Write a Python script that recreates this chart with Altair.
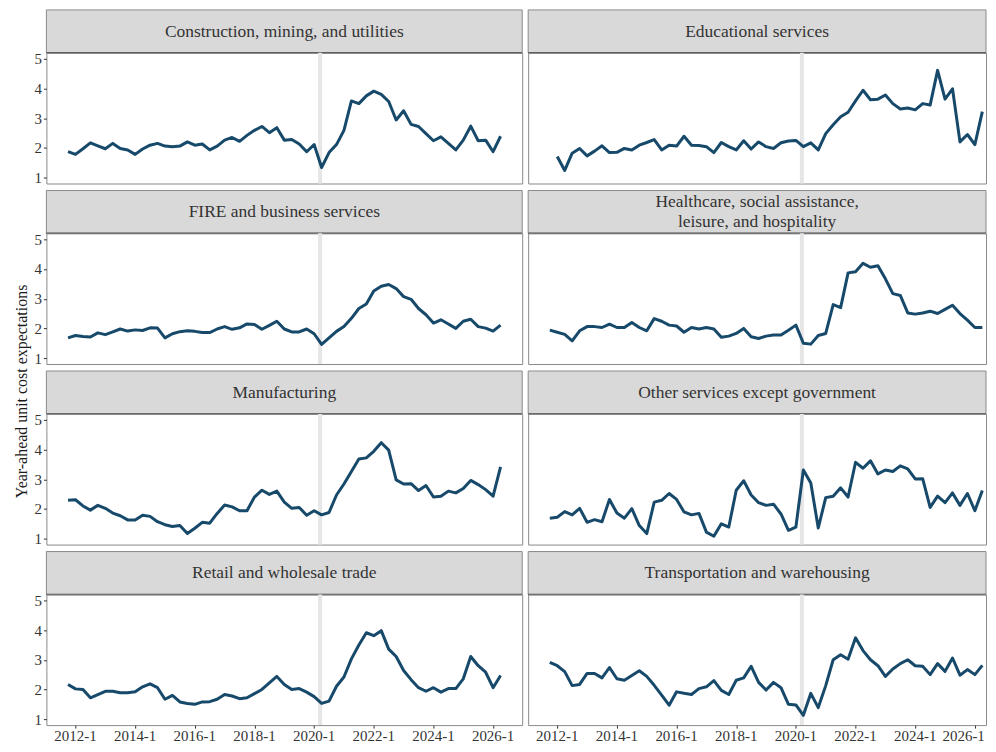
import altair as alt
import pandas as pd

# ---------------- data ----------------
start_year, start_q = 2011, 4
n_periods = 59  # 2011Q4 .. 2026Q2
periods = []
y, q = start_year, start_q
for _ in range(n_periods):
    periods.append(y + (q - 1) / 4)
    q += 1
    if q > 4:
        q = 1
        y += 1

construction = [1.87, 1.78, 1.97, 2.17, 2.07, 1.97, 2.15, 1.98, 1.93, 1.78,
                 1.96, 2.09, 2.15, 2.06, 2.04, 2.06, 2.20, 2.09, 2.13, 1.93,
                 2.06, 2.26, 2.35, 2.22, 2.42, 2.59, 2.72, 2.51, 2.68, 2.26,
                 2.28, 2.13, 1.87, 2.11, 1.34, 1.84, 2.11, 2.59, 3.58, 3.49,
                 3.75, 3.91, 3.80, 3.56, 2.94, 3.25, 2.79, 2.72, 2.48, 2.24,
                 2.37, 2.15, 1.93, 2.26, 2.73, 2.24, 2.26, 1.87, 2.39]
educational = [None, 1.71, 1.24, 1.82, 1.98, 1.73, 1.89, 2.07, 1.84, 1.85,
               1.98, 1.93, 2.09, 2.18, 2.28, 1.93, 2.09, 2.06, 2.39, 2.09,
               2.08, 2.04, 1.84, 2.18, 2.04, 1.93, 2.24, 1.96, 2.20, 2.04,
               1.98, 2.17, 2.23, 2.25, 2.04, 2.17, 1.93, 2.48, 2.78, 3.05,
               3.20, 3.58, 3.94, 3.62, 3.64, 3.78, 3.49, 3.31, 3.34, 3.28,
               3.49, 3.44, 4.61, 3.64, 3.99, 2.20, 2.45, 2.11, 3.22]
fire = [1.68, 1.76, 1.73, 1.71, 1.85, 1.79, 1.88, 1.98, 1.91, 1.95,
        1.93, 2.02, 2.01, 1.68, 1.82, 1.89, 1.92, 1.90, 1.86, 1.86,
        1.98, 2.06, 1.97, 2.02, 2.15, 2.13, 1.97, 2.10, 2.24, 1.98,
        1.88, 1.88, 1.98, 1.82, 1.46, 1.68, 1.90, 2.06, 2.34, 2.67,
        2.82, 3.26, 3.42, 3.48, 3.34, 3.07, 2.98, 2.67, 2.46, 2.18,
        2.29, 2.15, 2.00, 2.24, 2.31, 2.06, 2.01, 1.91, 2.11]
healthcare = [1.94, 1.87, 1.80, 1.58, 1.92, 2.06, 2.06, 2.03, 2.14, 2.03,
              2.03, 2.20, 2.03, 1.92, 2.33, 2.24, 2.11, 2.08, 1.87, 2.03,
              1.98, 2.03, 1.98, 1.70, 1.74, 1.83, 2.00, 1.72, 1.66, 1.74,
              1.78, 1.78, 1.94, 2.11, 1.50, 1.47, 1.76, 1.83, 2.80, 2.70,
              3.87, 3.91, 4.19, 4.06, 4.11, 3.67, 3.17, 3.11, 2.52, 2.48,
              2.52, 2.58, 2.50, 2.64, 2.78, 2.50, 2.28, 2.03, 2.03]
manufacturing = [2.29, 2.31, 2.10, 1.96, 2.12, 2.02, 1.86, 1.77, 1.63, 1.63,
                 1.79, 1.75, 1.57, 1.47, 1.41, 1.44, 1.17, 1.35, 1.55, 1.52,
                 1.85, 2.13, 2.07, 1.94, 1.94, 2.40, 2.63, 2.49, 2.60, 2.23,
                 2.02, 2.05, 1.79, 1.94, 1.80, 1.88, 2.47, 2.84, 3.26, 3.68,
                 3.72, 3.94, 4.23, 3.98, 2.98, 2.84, 2.85, 2.62, 2.79, 2.40,
                 2.43, 2.60, 2.54, 2.69, 2.96, 2.82, 2.65, 2.43, 3.42]
other_services = [1.69, 1.72, 1.91, 1.80, 2.02, 1.55, 1.64, 1.57, 2.32, 1.86,
                  1.69, 2.01, 1.44, 1.17, 2.23, 2.29, 2.52, 2.32, 1.90, 1.80,
                  1.85, 1.22, 1.08, 1.50, 1.39, 2.63, 2.95, 2.47, 2.21, 2.12,
                  2.16, 1.83, 1.28, 1.39, 3.31, 2.87, 1.36, 2.38, 2.43, 2.71,
                  2.40, 3.57, 3.37, 3.62, 3.18, 3.31, 3.26, 3.45, 3.35, 3.01,
                  3.02, 2.05, 2.43, 2.21, 2.54, 2.12, 2.52, 1.94, 2.62]
retail = [2.17, 2.02, 2.00, 1.72, 1.83, 1.94, 1.94, 1.89, 1.89, 1.92,
          2.09, 2.19, 2.06, 1.67, 1.80, 1.58, 1.53, 1.50, 1.58, 1.59,
          1.67, 1.83, 1.78, 1.69, 1.72, 1.86, 2.00, 2.22, 2.44, 2.17,
          2.00, 2.03, 1.91, 1.76, 1.53, 1.61, 2.11, 2.42, 3.03, 3.50,
          3.91, 3.81, 3.98, 3.36, 3.11, 2.64, 2.33, 2.06, 1.94, 2.06,
          1.91, 2.03, 2.03, 2.36, 3.11, 2.80, 2.58, 2.06, 2.47]
transportation = [2.91, 2.80, 2.60, 2.13, 2.17, 2.54, 2.54, 2.39, 2.74, 2.36,
                  2.31, 2.47, 2.63, 2.44, 2.14, 1.81, 1.47, 1.92, 1.87, 1.83,
                  2.03, 2.09, 2.30, 1.97, 1.83, 2.31, 2.39, 2.78, 2.24, 1.98,
                  2.24, 2.06, 1.50, 1.48, 1.13, 1.87, 1.39, 2.13, 3.00, 3.17,
                  3.02, 3.74, 3.31, 3.00, 2.80, 2.44, 2.69, 2.87, 3.00, 2.80,
                  2.78, 2.50, 2.87, 2.61, 3.06, 2.48, 2.67, 2.50, 2.81]

sector_labels = [
    "Construction, mining, and utilities",
    "Educational services",
    "FIRE and business services",
    "Healthcare, social assistance,\nleisure, and hospitality",
    "Manufacturing",
    "Other services except government",
    "Retail and wholesale trade",
    "Transportation and warehousing",
]
sector_values = [construction, educational, fire, healthcare,
                 manufacturing, other_services, retail, transportation]

covid_marker = [2020.2]
x_tick_years = [2012, 2014, 2016, 2018, 2020, 2022, 2024, 2026]
x_tick_labels = [f"{yr}-1" for yr in x_tick_years]
y_ticks = [1, 2, 3, 4, 5]
y_title = "Year-ahead unit cost expectations"

rows = []
for lab, vals in zip(sector_labels, sector_values):
    for xv, v in zip(periods, vals):
        if v is not None:
            rows.append({"sector": lab, "x": xv, "value": v})
df = pd.DataFrame(rows)
covid_df = pd.DataFrame({"x": covid_marker})
tick_df = pd.DataFrame({"x": x_tick_years, "label": x_tick_labels})

# ---------------- style ----------------
FONT = "Liberation Serif"
W_LEFT = 477
W_RIGHT = 459          # right column is cut at the page edge
PLOT_H = 131
STRIP_H = 43
GAP = 7
LABEL_ROW_H = 17
LINE_HEIGHT = 20
STRIP_FONT = 17.5
LINE_COLOR = "#17496a"
BORDER = "#8a8a8a"
TEXT = "#333333"

X_LO, X_HI = 2011.025, 2026.975
px_per_year = W_LEFT / (X_HI - X_LO)
x_scales = [alt.Scale(domain=[X_LO, X_HI], nice=False, zero=False),
            alt.Scale(domain=[X_LO, X_LO + W_RIGHT / px_per_year],
                      nice=False, zero=False)]
widths = [W_LEFT, W_RIGHT]
y_scale = alt.Scale(domain=[0.8, 5.2], nice=False, zero=False)

# y-axis title centre (pixels from the top of the panel stack)
TITLE_CENTER = 382
row2_top = STRIP_H + PLOT_H + GAP + STRIP_H
title_y = TITLE_CENTER - row2_top


def strip(label, first, w):
    top = 0 if first else GAP
    h = STRIP_H + top
    n_lines = label.count("\n") + 1
    base = alt.Chart(pd.DataFrame({"label": [label]}))
    rect = base.mark_rect(fill="#d9d9d9", stroke=BORDER, strokeWidth=1).encode(
        x=alt.value(0), x2=alt.value(w), y=alt.value(top), y2=alt.value(h))
    bottom = base.mark_rule(color="#555555", strokeWidth=1.5).encode(
        x=alt.value(0), x2=alt.value(w), y=alt.value(h))
    text = base.mark_text(font=FONT, fontSize=STRIP_FONT, color=TEXT,
                          lineBreak="\n", lineHeight=LINE_HEIGHT,
                          align="center", baseline="middle").encode(
        x=alt.value(w / 2),
        y=alt.value(top + STRIP_H / 2 + 0.5 - (n_lines - 1) * LINE_HEIGHT / 2),
        text="label:N")
    return alt.layer(rect, bottom, text).properties(
        width=w, height=h, view=alt.ViewBackground(stroke="transparent"))


def plot(label, col, row):
    w = widths[col]
    d = df[df.sector == label]
    if row == 3:
        xax = alt.Axis(values=x_tick_years, labels=False, tickSize=3,
                       tickColor=TEXT, title="", domain=False, grid=False)
    else:
        xax = None
    if col == 0:
        kw = dict(values=y_ticks, tickSize=3, labelPadding=2,
                  labelFontSize=15, labelFont=FONT, labelColor=TEXT,
                  tickColor=TEXT, domain=False, grid=False)
        if row == 1:
            kw.update(title=y_title, titleX=-25, titleY=title_y, titleAngle=270,
                      titleAlign="center", titleBaseline="middle",
                      titleFontSize=16, titleFont=FONT, titleFontWeight="normal",
                      titleColor="#1a1a1a")
        else:
            kw.update(title="")
        yax = alt.Axis(**kw)
    else:
        yax = None

    xenc = alt.X("x:Q", scale=x_scales[col], axis=xax)
    rule = alt.Chart(covid_df).mark_rule(color="#e6e6e6", strokeWidth=4).encode(x=xenc)
    line = alt.Chart(d).mark_line(color=LINE_COLOR, strokeWidth=3,
                                  strokeJoin="round").encode(
        x=xenc, y=alt.Y("value:Q", scale=y_scale, axis=yax))
    return alt.layer(rule, line).properties(
        width=w, height=PLOT_H,
        view=alt.ViewBackground(stroke=BORDER, strokeWidth=1))


def tick_labels(col):
    w = widths[col]
    last = x_tick_years[-1]
    base = alt.Chart(tick_df)
    enc = dict(x=alt.X("x:Q", scale=x_scales[col], axis=None),
               y=alt.value(4), text="label:N")
    style = dict(font=FONT, fontSize=15, color=TEXT, baseline="top", clip=True)
    if col == 0:
        layer = base.mark_text(align="center", **style).encode(**enc)
    else:
        # the last label would run past the page edge: keep it readable
        mid = base.transform_filter(alt.datum.x < last).mark_text(
            align="center", **style).encode(**enc)
        end = base.transform_filter(alt.datum.x == last).mark_text(
            align="right", dx=10, **style).encode(**enc)
        layer = alt.layer(mid, end)
    return layer.properties(width=w, height=LABEL_ROW_H,
                            view=alt.ViewBackground(stroke="transparent"))


cells = []
for r in range(4):
    for c in range(2):
        cells.append(strip(sector_labels[r * 2 + c], r == 0, widths[c]))
    for c in range(2):
        cells.append(plot(sector_labels[r * 2 + c], c, r))
for c in range(2):
    cells.append(tick_labels(c))

chart = alt.concat(*cells, columns=2, spacing={"row": 0, "column": 6},
                   bounds="flush", align="each").properties(
    padding={"left": 4.5, "top": 0, "right": 0, "bottom": 0},
    background="white",
).configure_axis(grid=False)

chart.save("out.html", embed_options={"renderer": "svg", "actions": False})
